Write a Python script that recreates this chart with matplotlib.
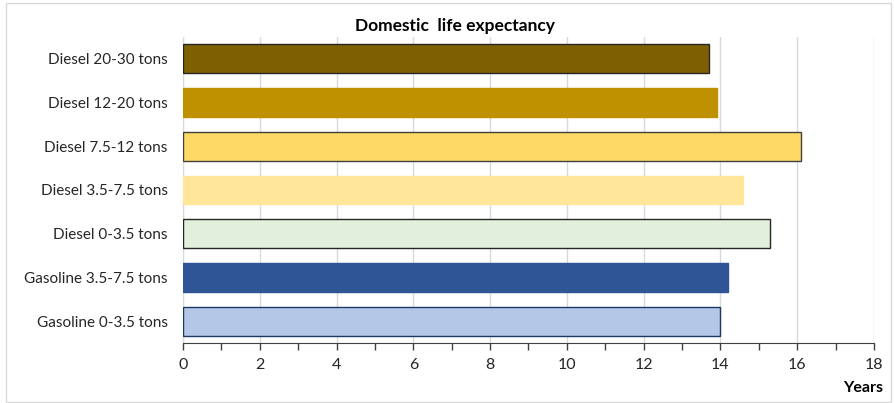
import matplotlib.pyplot as plt
from matplotlib.patches import Rectangle
from matplotlib.ticker import MultipleLocator

categories = ['Diesel 20-30 tons', 'Diesel 12-20 tons', 'Diesel 7.5-12 tons', 'Diesel 3.5-7.5 tons',
              'Diesel 0-3.5 tons', 'Gasoline 3.5-7.5 tons', 'Gasoline 0-3.5 tons']
years = [13.7, 13.9, 16.1, 14.6, 15.3, 14.2, 14.0]
colors = ['#7F6000', '#BF9000', '#FFD966', '#FFE699', '#E2EFDA', '#2F5597', '#B4C7E7']
edges = ['#262626', '#BF9000', '#404040', '#FFE699', '#262626', '#2F5597', '#1F3864']

plt.rcParams['font.family'] = ['Lato', 'DejaVu Sans']

fig = plt.figure(figsize=(8.94, 4.03), dpi=100)
ax = fig.add_axes([0.2047, 0.1489, 0.7729, 0.7593])

fig.patches.append(Rectangle((0.007, 0.003), 0.99, 0.99, transform=fig.transFigure,
                             fill=False, edgecolor='#D9D9D9', linewidth=1))

pos = list(range(len(categories)))
ax.barh(pos, years, height=0.66, color=colors, edgecolor=edges, linewidth=1.0, zorder=3)
ax.set_ylim(len(categories) - 0.5, -0.5)
ax.set_yticks(pos)
ax.set_yticklabels(categories, fontsize=11, color='#262626')
ax.tick_params(axis='y', length=0, pad=11)

ax.set_xlim(0, 18)
ax.xaxis.set_major_locator(MultipleLocator(2))
ax.xaxis.set_minor_locator(MultipleLocator(1))
ax.tick_params(axis='x', which='both', direction='out', length=5, width=1, color='#404040',
               labelsize=11.5, labelcolor='#262626', pad=6)
ax.grid(axis='x', color='#D9D9D9', linewidth=1, zorder=0)

for s in ['top', 'right']:
    ax.spines[s].set_visible(False)
ax.spines['left'].set_color('#D9D9D9')
ax.spines['bottom'].set_color('#404040')

fig.text(0.509, 0.936, 'Domestic  life expectancy', ha='center', va='center', fontsize=12.5, fontweight='bold')
fig.text(0.988, 0.037, 'Years', ha='right', va='center', fontsize=11.5, fontweight='bold')

plt.savefig('out.png', dpi=100)
